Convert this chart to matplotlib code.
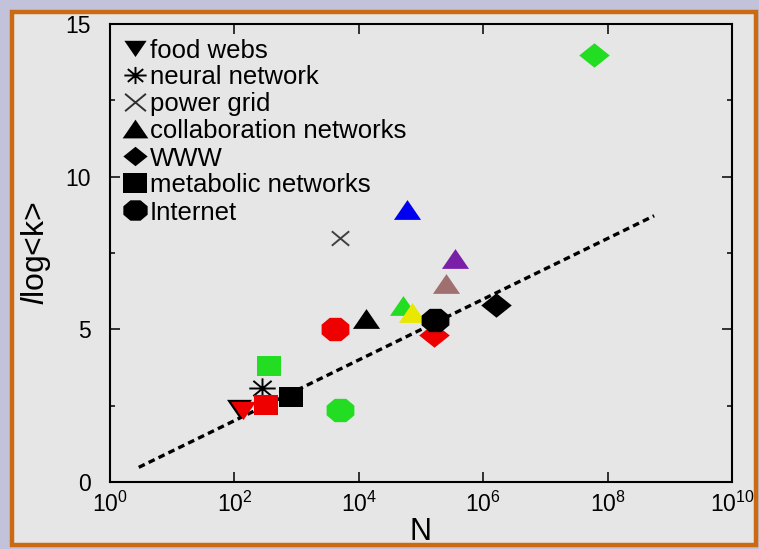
import matplotlib
matplotlib.use("Agg")
import numpy as np
import matplotlib.pyplot as plt
from matplotlib.patches import Rectangle
from matplotlib.path import Path
from matplotlib.ticker import FixedLocator

plt.rcParams['font.family'] = ['Liberation Sans', 'DejaVu Sans']
plt.rcParams['mathtext.fontset'] = 'custom'
plt.rcParams['mathtext.rm'] = 'Liberation Sans'
plt.rcParams['mathtext.it'] = 'Liberation Sans:italic'
plt.rcParams['mathtext.default'] = 'regular'

# network size N and l*log<k> for each empirical network
food_N = [120, 140]
food_l = [2.42, 2.36]
food_c = ['black', '#ee0000']

neural_N = [282]
neural_l = [3.08]
neural_c = ['black']

grid_N = [4941]
grid_l = [8.0]
grid_c = ['#404040']

collab_N = [59000, 355000, 250000, 52000, 72000, 13000]
collab_l = [8.9, 7.3, 6.5, 5.75, 5.55, 5.35]
collab_c = ['#0000ee', '#7a1fa8', '#a07070', '#22dd22', '#e8e800', 'black']

www_N = [6.0e7, 1.6e6, 1.6e5]
www_l = [14.0, 5.8, 4.8]
www_c = ['#22dd22', 'black', '#ee0000']

metab_N = [355, 800, 320]
metab_l = [3.8, 2.8, 2.52]
metab_c = ['#22dd22', 'black', '#ee0000']

inet_N = [4200, 165000, 5000]
inet_l = [5.0, 5.3, 2.35]
inet_c = ['#ee0000', 'black', '#22dd22']

# dashed reference line l*log<k> ~ log N
fit_N = [2.9, 5.6e8]
fit_l = [0.48, 8.72]

legend_labels = ['food webs', 'neural network', 'power grid',
                 'collaboration networks', 'WWW', 'metabolic networks', 'Internet']

x_ticks = [1e0, 1e2, 1e4, 1e6, 1e8, 1e10]
x_ticklabels = [r'$10^{0}$', r'$10^{2}$', r'$10^{4}$', r'$10^{6}$', r'$10^{8}$', r'$10^{10}$']
y_ticks = [0, 5, 10, 15]
y_ticklabels = ['0', '5', '10', '15']
y_minor = [2.5, 7.5, 12.5]

# slightly wide marker shapes
tri_up = [(0, 1), (-1.3, -0.9), (1.3, -0.9)]
tri_down = [(0, -1), (-1.3, 0.9), (1.3, 0.9)]
diamond = [(0, 0.8), (1, 0), (0, -0.8), (-1, 0)]
square = [(-1, -0.82), (1, -0.82), (1, 0.82), (-1, 0.82)]
ang = np.deg2rad(22.5 + 45 * np.arange(8))
octagon = list(zip(np.cos(ang), 0.84 * np.sin(ang)))
M, L = Path.MOVETO, Path.LINETO
asterisk = Path([(-1.3, 0), (1.3, 0), (0, -1), (0, 1),
                 (-0.9, -0.75), (0.9, 0.75), (-0.9, 0.75), (0.9, -0.75)],
                [M, L, M, L, M, L, M, L])
cross = Path([(-1.2, -1), (1.2, 1), (-1.2, 1), (1.2, -1)], [M, L, M, L])

W, H = 759, 549
fig = plt.figure(figsize=(W / 100, H / 100), dpi=100, facecolor='#c2c3da')

# orange framed panel
panel = Rectangle((12 / W, 1 - 545 / H), (756 - 12) / W, (545 - 12) / H,
                  transform=fig.transFigure, facecolor='#e6e6e6',
                  edgecolor='#cc6a12', linewidth=3.2, zorder=-10)
fig.patches.append(panel)

AX_L, AX_R, AX_T, AX_B = 110, 732, 24, 482
ax = fig.add_axes([AX_L / W, 1 - AX_B / H, (AX_R - AX_L) / W, (AX_B - AX_T) / H])
ax.set_zorder(5)
ax.set_facecolor('#e6e6e6')
ax.set_xscale('log')
ax.set_xlim(1, 1e10)
ax.set_ylim(0, 15)

ax.plot(fit_N, fit_l, linestyle=(0, (2.0, 1.3)), color='black', linewidth=2.4, zorder=2)

groups = [
    (food_N, food_l, food_c, tri_down, 18, False),
    (neural_N, neural_l, neural_c, asterisk, 19, True),
    (grid_N, grid_l, grid_c, cross, 12.5, True),
    (collab_N, collab_l, collab_c, tri_up, 19.5, False),
    (www_N, www_l, www_c, diamond, 22, False),
    (metab_N, metab_l, metab_c, square, 17.5, False),
    (inet_N, inet_l, inet_c, octagon, 20, False),
]
for N, l, cols, mk, size, thin in groups:
    for n, v, c in zip(N, l, cols):
        if thin:
            ax.plot([n], [v], marker=mk, markerfacecolor='none', markeredgecolor=c,
                    markersize=size, markeredgewidth=1.4, linestyle='none', zorder=3)
        else:
            ax.plot([n], [v], marker=mk, color=c, markersize=size,
                    markeredgewidth=0, linestyle='none', zorder=3)

# legend drawn row by row
def px_to_axes(px, py):
    return (px - AX_L) / (AX_R - AX_L), (AX_B - py) / (AX_B - AX_T)

leg_sizes = [16, 16, 15, 18.5, 17.5, 17, 17.5]
for i, ((_, _, _, mk, _, thin), lab, sz) in enumerate(zip(groups, legend_labels, leg_sizes)):
    mx, my = px_to_axes(135, 48 + 27 * i)
    tx, _ = px_to_axes(150, 0)
    if thin:
        ax.plot([mx], [my], transform=ax.transAxes, marker=mk, markerfacecolor='none',
                markeredgecolor='#303030' if mk is cross else 'black',
                markersize=sz, markeredgewidth=1.4, linestyle='none', zorder=4)
    else:
        ax.plot([mx], [my], transform=ax.transAxes, marker=mk, color='black',
                markersize=sz, markeredgewidth=0, linestyle='none', zorder=4)
    ax.text(tx, my, lab, transform=ax.transAxes, fontsize=18.5, va='center_baseline',
            ha='left', color='black', zorder=4)

ax.set_xticks(x_ticks)
ax.set_xticklabels(x_ticklabels)
ax.xaxis.set_minor_locator(FixedLocator([]))
ax.set_yticks(y_ticks)
ax.set_yticklabels(y_ticklabels)
ax.yaxis.set_minor_locator(FixedLocator(y_minor))
ax.tick_params(axis='both', which='major', direction='in', length=7.2, width=1.1,
               top=True, right=True, labelsize=16.5)
ax.tick_params(axis='both', which='minor', direction='in', length=3.6, width=1.1,
               top=True, right=True)
ax.tick_params(axis='y', which='major', pad=14)
ax.tick_params(axis='x', which='major', pad=7)

for s in ax.spines.values():
    s.set_linewidth(1.5)

ax.set_xlabel('N', fontsize=22, labelpad=0)
ax.set_ylabel(r'$\mathit{l}$log<k>', fontsize=23, labelpad=9)

fig.savefig('out.png', dpi=100, facecolor=fig.get_facecolor())
